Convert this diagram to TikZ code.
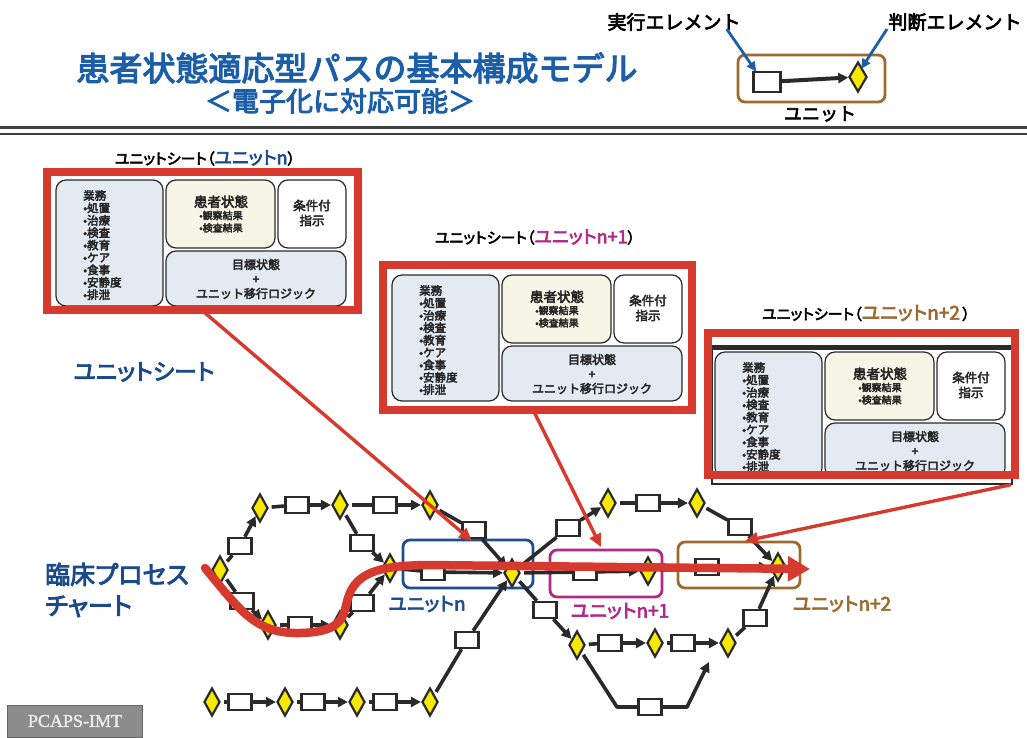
\documentclass[tikz,border=0pt]{standalone}
\usepackage{fontspec}
\setmainfont{Noto Sans CJK JP}[AutoFakeBold=3.5]
\newfontfamily\jpp{Noto Sans CJK JP}[RawFeature=+palt,AutoFakeBold=3.5]
\newfontfamily\pserif{Liberation Serif}[AutoFakeBold=2]
\usetikzlibrary{shapes.geometric,arrows.meta,calc}
\definecolor{titleblue}{HTML}{1D5EA8}
\definecolor{navy}{HTML}{1A4A8A}
\definecolor{unitblue}{HTML}{1F4E8C}
\definecolor{unitmag}{HTML}{B02A8A}
\definecolor{unitbrown}{HTML}{9C6B30}
\definecolor{redA}{HTML}{D63A2E}
\definecolor{yel}{HTML}{F7EA00}
\definecolor{pblue}{HTML}{E3EAF2}
\definecolor{pcream}{HTML}{F7F5E6}
\definecolor{dk}{HTML}{2A2A2A}
\tikzset{
  act/.style={rectangle,draw=dk,line width=2.4pt,fill=white,minimum width=23pt,minimum height=16pt,inner sep=0pt},
  dec/.style={diamond,draw=dk,line width=2.2pt,fill=yel,minimum width=16pt,minimum height=28pt,inner sep=0pt},
  flow/.style={line width=3.6pt,draw=dk,-{Triangle[length=10pt,width=10pt]}},
  lnk/.style={line width=3.6pt,draw=dk,shorten <=3pt},
  ubox/.style={rectangle,rounded corners=7pt,line width=2.8pt,inner sep=0pt},
  redframe/.style={rectangle,draw=redA,line width=7.5pt,inner sep=0pt},
  redarrow/.style={draw=redA,line width=3.4pt,-{Triangle[length=13pt,width=12pt]}},
  legarrow/.style={draw=titleblue,line width=2.8pt,-{Triangle[length=10pt,width=9pt]}},
  panel/.style={draw=dk,line width=1.2pt,rounded corners=10pt},
  sheettxt/.style={font=\fontsize{11.5}{12.4}\selectfont\bfseries,text=black!85,inner sep=0pt},
  pics/usheet/.style={code={
    \fill[white] (0,0) rectangle (310,140);
    \draw[panel,fill=pblue] (9,8) rectangle (116,134);
    \draw[panel,fill=pcream] (119,8) rectangle (228,76);
    \draw[panel,fill=white] (231,8) rectangle (299,76);
    \draw[panel,fill=pblue] (119,79) rectangle (299,134);
    \node[sheettxt,anchor=north west,align=left] (-gyo) at (36,18) {業務\\•処置\\•治療\\•検査\\•教育\\•ケア\\•食事\\•安静度\\•排泄};
    \node[sheettxt,align=center] (-kan) at (174,42) {{\fontsize{13.5}{16}\selectfont 患者状態}\\{\fontsize{10}{12.5}\selectfont •観察結果}\\{\fontsize{10}{12.5}\selectfont •検査結果}};
    \node[sheettxt,align=center,font=\fontsize{12.5}{15}\selectfont\bfseries] (-jou) at (265,41) {条件付\\指示};
    \node[sheettxt,align=center,font=\fontsize{12}{14.5}\selectfont\bfseries] (-mok) at (209,107) {目標状態\\+\\ユニット移行ロジック};
  }}
}
\begin{document}
\begin{tikzpicture}[x=1pt,y=-1pt]
\useasboundingbox (0,0) rectangle (1027,738);
\fill[white] (0,0) rectangle (1027,738);

% title
\node[font=\fontsize{33}{33}\selectfont\bfseries,text=titleblue,inner sep=0pt] (title) at (357,68) {患者状態適応型パスの基本構成モデル};
\node[font=\fontsize{27}{27}\selectfont\bfseries,text=titleblue,inner sep=0pt] (sub) at (340,101) {＜電子化に対応可能＞};
\coordinate (r1a) at (0,128); \coordinate (r1b) at (1027,128);
\coordinate (r2a) at (0,134); \coordinate (r2b) at (1027,134);
\draw[line width=3pt,black!75] (r1a) -- (r1b);
\draw[line width=1.2pt,black!75] (r2a) -- (r2b);

% legend
\node[font=\fontsize{19}{19}\selectfont\bfseries,inner sep=0pt] (lex) at (674,22) {実行エレメント};
\node[font=\fontsize{19}{19}\selectfont\bfseries,inner sep=0pt] (ljd) at (955,22) {判断エレメント};
\node[ubox,draw=unitbrown,minimum width=147pt,minimum height=47pt] (lunit) at (811.5,78.5) {};
\node[act,minimum width=27pt,minimum height=20pt] (lsq) at (767,82) {};
\node[dec,minimum width=18pt,minimum height=30pt] (ldec) at (858,77) {};
\draw[flow,line width=4pt] (lsq) -- (ldec);
\node[font=\fontsize{18}{18}\selectfont\bfseries,inner sep=0pt] (lun) at (820,114) {ユニット};
\draw[legarrow] ([xshift=-14pt,yshift=2pt]lex.south east) -- ([xshift=4pt,yshift=-1pt]lsq.north west);
\draw[legarrow] ([xshift=-68pt,yshift=2pt]ljd.south) -- ([xshift=-2pt]ldec.north east);

% unit sheets
\node[font=\fontsize{15}{15}\selectfont\bfseries\jpp,inner sep=0pt] (cap1) at (205,158) {ユニットシート（\textcolor{navy}{\fontsize{18}{18}\selectfont ユニットn}）};
\pic (s1) at (47,172) {usheet};
\node[redframe,minimum width=311pt,minimum height=138pt] (sh1) at (202.5,241) {};

\node[font=\fontsize{15}{15}\selectfont\bfseries\jpp,inner sep=0pt] (cap2) at (535,237) {ユニットシート（\textcolor{unitmag}{\fontsize{18}{18}\selectfont ユニットn+1}）};
\pic (s2) at (383,267) {usheet};
\node[redframe,minimum width=309pt,minimum height=145pt] (sh2) at (537.5,337.5) {};

\node[font=\fontsize{15}{15}\selectfont\bfseries\jpp,inner sep=0pt] (cap3) at (866,313) {ユニットシート（\textcolor{unitbrown}{\fontsize{19}{19}\selectfont ユニットn+2}\,）};
\begin{scope}
  \clip (712,346) rectangle (1012,484);
  \pic (s3) at (706,344) {usheet};
\end{scope}
\draw[line width=1.8pt,dk] (712,346) rectangle (1012,484);
\draw[line width=3.5pt,dk] (712,348) -- (1012,348);
\node[redframe,minimum width=307pt,minimum height=142pt] (sh3) at (861.5,404) {};

% side labels
\node[font=\fontsize{23}{23}\selectfont\bfseries\jpp,text=navy,inner sep=0pt] (lsheet) at (144,372) {ユニットシート};
\node[font=\fontsize{25}{31}\selectfont\bfseries\jpp,text=navy,align=left,inner sep=0pt,anchor=west] (lchart) at (45,590) {臨床プロセス\\チャート};
\node[fill=black!45,draw=black!60,line width=1pt,minimum width=135pt,minimum height=32pt,inner sep=0pt,text=white!92!black,font=\fontsize{18}{18}\selectfont\bfseries\pserif] (pcaps) at (75,721) {PCAPS-IMT};

% unit boxes
\node[ubox,draw=unitblue,minimum width=130pt,minimum height=48pt] (un) at (468,564) {};
\node[ubox,draw=unitmag,minimum width=112pt,minimum height=47pt] (un1) at (606,573.5) {};
\node[ubox,draw=unitbrown,minimum width=122pt,minimum height=46pt] (un2) at (739,565) {};
\node[font=\fontsize{19}{19}\selectfont\bfseries\jpp,text=unitblue,inner sep=0pt] (lun0) at (427,604) {ユニットn};
\node[font=\fontsize{19}{19}\selectfont\bfseries\jpp,text=unitmag,inner sep=0pt] (lun1) at (620,611) {ユニットn+1};
\node[font=\fontsize{19}{19}\selectfont\bfseries\jpp,text=unitbrown,inner sep=0pt] (lun2) at (842,604) {ユニットn+2};

% chart elements (left part)
\node[dec] (d1) at (260,508) {};
\node[act] (a1) at (297,505) {};
\node[dec] (d2) at (340,505) {};
\node[act] (a2) at (385,505) {};
\node[dec] (d3) at (430,505) {};
\node[dec] (d0) at (220,570) {};
\node[act] (a0u) at (240,546) {};
\node[act] (a0d) at (242,601) {};
\node[dec] (d4) at (268,625) {};
\node[act] (a4) at (300,625) {};
\node[dec] (d5) at (340,625) {};
\node[act] (a5) at (362,603) {};
\node[act] (a2d) at (362,543) {};
\node[dec] (d6) at (390,568) {};
\node[act] (a3) at (474,530) {};
\node[act] (aU1) at (433,572) {};
\node[dec] (d7) at (512,573) {};
\node[dec] (e1) at (212,702) {};
\node[act] (b1) at (240,702) {};
\node[dec] (e2) at (285,702) {};
\node[act] (b2) at (313,702) {};
\node[dec] (e3) at (357,702) {};
\node[act] (b3) at (385,702) {};
\node[dec] (e4) at (430,702) {};
\node[act] (b4) at (467,640) {};

% chart elements (right part)
\node[act] (c1) at (568,528) {};
\node[dec] (f1) at (608,503) {};
\node[act] (c2) at (648,503) {};
\node[dec] (f2) at (697,503) {};
\node[act] (c3) at (740,527) {};
\node[act] (u1) at (585,572) {};
\node[dec] (g1) at (648,571) {};
\node[act] (u2) at (707,567) {};
\node[dec] (g2) at (778,567) {};
\node[act] (h1) at (545,610) {};
\node[dec] (k1) at (577,645) {};
\node[act] (h2) at (610,643) {};
\node[dec] (k2) at (655,643) {};
\node[act] (h3) at (683,643) {};
\node[dec] (k3) at (728,643) {};
\node[act] (h4) at (755,618) {};
\node[act] (h5) at (650,707) {};
\coordinate (p1) at (617,707);
\coordinate (p2) at (687,707);
\coordinate (m1) at (709,662);

% connectors left
\draw[lnk] (d0) -- (a0u); \draw[flow] (a0u) -- (d1);
\draw[lnk] (d1) -- (a1); \draw[flow] (a1) -- (d2);
\draw[lnk] (d2) -- (a2); \draw[flow] (a2) -- (d3);
\draw[lnk] (d0) -- (a0d); \draw[flow] (a0d) -- (d4);
\draw[lnk] (d4) -- (a4); \draw[flow] (a4) -- (d5);
\draw[lnk] (d5) -- (a5); \draw[flow] (a5) -- (d6);
\draw[lnk] (d2) -- (a2d); \draw[flow] (a2d) -- (d6);
\draw[lnk] (d6) -- (aU1); \draw[flow] (aU1) -- (d7);
\draw[lnk] (d3) -- (a3); \draw[flow] (a3) -- (d7);
\draw[lnk] (e1) -- (b1); \draw[flow] (b1) -- (e2);
\draw[lnk] (e2) -- (b2); \draw[flow] (b2) -- (e3);
\draw[lnk] (e3) -- (b3); \draw[flow] (b3) -- (e4);
\draw[lnk] (e4) -- (b4); \draw[flow] (b4) -- (d7);
% connectors right
\draw[lnk] (d7) -- (c1); \draw[flow] (c1) -- (f1);
\draw[lnk] (f1) -- (c2); \draw[flow] (c2) -- (f2);
\draw[lnk] (f2) -- (c3); \draw[flow] (c3) -- (g2);
\draw[lnk] (d7) -- (u1); \draw[flow] (u1) -- (g1);
\draw[lnk] (g1) -- (u2); \draw[flow] (u2) -- (g2);
\draw[lnk] (d7) -- (h1); \draw[flow] (h1) -- (k1);
\draw[lnk] (k1) -- (h2); \draw[flow] (h2) -- (k2);
\draw[lnk] (k2) -- (h3); \draw[flow] (h3) -- (k3);
\draw[lnk] (k3) -- (h4); \draw[flow] (h4) -- (g2);
\draw[lnk,line join=round] (k1) -- (p1) -- (h5);
\draw[flow,line join=round] (h5) -- (p2) -- (m1);

% red sheet arrows
\coordinate (t1) at (472,541);
\coordinate (t2) at (601,547);
\coordinate (t3) at (745,541);
\draw[redarrow] ([yshift=3pt]sh1.south) -- (t1);
\draw[redarrow] ([xshift=-4pt,yshift=3pt]sh2.south) -- (t2);
\draw[redarrow] ([xshift=-8pt,yshift=-6pt]sh3.south east) -- (t3);

% big red process curve
\coordinate (rs) at (205,568);
\coordinate (re) at (810,569);
\draw[draw=redA,line width=8.5pt,line cap=round,-{Triangle[length=22pt,width=24pt]}]
  (rs) .. controls (240,610) and (255,634) .. (300,633)
  .. controls (345,632) and (343,615) .. (348,598)
  .. controls (356,572) and (380,566) .. (425,565) -- (re);
\end{tikzpicture}
\end{document}
